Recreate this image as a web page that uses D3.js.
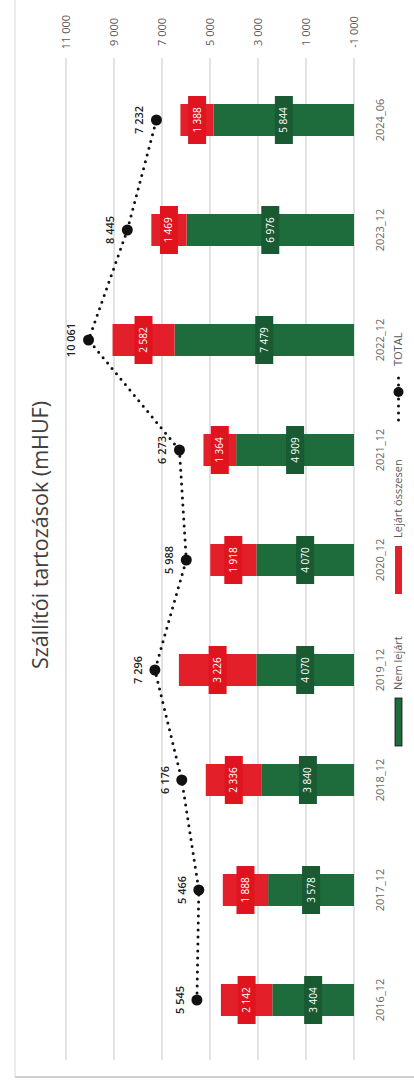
<!DOCTYPE html>
<html><head><meta charset="utf-8">
<script src="https://cdn.jsdelivr.net/npm/d3@7"></script>
<style>html,body{margin:0;padding:0;background:#fff;}svg{display:block;}</style>
</head><body>
<svg id="chart" width="414" height="1087"></svg>
<script>
const categories = ["2016_12","2017_12","2018_12","2019_12","2020_12","2021_12","2022_12","2023_12","2024_06"];
const nemLejart = [3404, 3578, 3840, 4070, 4070, 4909, 7479, 6976, 5844];
const lejart = [2142, 1888, 2336, 3226, 1918, 1364, 2582, 1469, 1388];
const total = [5545, 5466, 6176, 7296, 5988, 6273, 10061, 8445, 7232];
const axisTicks = [-1000, 1000, 3000, 5000, 7000, 9000, 11000];
const seriesNames = ["Nem lejárt", "Lejárt összesen", "TOTAL"];
const title = "Szállítói tartozások (mHUF)";

const GREEN = "#1e6b3b", GREEN_BOX = "#195a32", RED = "#e3202a", RED_BOX = "#e0141f";
const fmt = v => d3.format(",")(v).replace(/,/g, " ").replace("\u2212", "-");
const svg = d3.select("#chart");
const font = "'Open Sans', 'Liberation Sans', sans-serif";

// frame
svg.append("line").attr("x1",15).attr("x2",15).attr("y1",0).attr("y2",1077).attr("stroke","#d6d6d6");
svg.append("line").attr("x1",15).attr("x2",414).attr("y1",1077).attr("y2",1077).attr("stroke","#d0d0d0").attr("stroke-width",2);

// scales (chart is rotated: categories on y, values on x)
const y = d3.scaleBand().domain(categories.slice().reverse()).range([65, 1055]).paddingInner(0).paddingOuter(0);
const x = d3.scaleLinear().domain([-1000, 11000]).range([354, 66]);
const xb = d3.scaleLinear().domain([0, 12000]).range([354, 66]);

// gridlines
svg.append("g").selectAll("line").data(axisTicks).join("line")
  .attr("x1", d => x(d)).attr("x2", d => x(d)).attr("y1", 58).attr("y2", 1060)
  .attr("stroke", "#d9d9d9").attr("stroke-width", 1.5);

// value axis (top)
const ax = svg.append("g").attr("transform","translate(0,48)")
  .call(d3.axisTop(x).tickValues(axisTicks).tickFormat(fmt).tickSize(0));
ax.select(".domain").remove();
ax.selectAll("text").attr("transform","translate(0,-16) rotate(-90)")
  .attr("text-anchor","middle").attr("dy","0.35em").attr("x",0).attr("y",0)
  .style("font-family", font).style("font-size","11px").attr("fill","#595959");

// category axis (right)
const cy = svg.append("g").attr("transform","translate(380,0)")
  .call(d3.axisRight(y).tickSize(0));
cy.select(".domain").remove();
cy.selectAll("text").attr("transform","rotate(-90)").attr("text-anchor","middle")
  .attr("x",0).attr("y",0).attr("dy","0.35em")
  .style("font-family", font).style("font-size","11px").attr("fill","#666");

const barH = 32;
const rows = categories.map((c,i) => ({c, g: nemLejart[i], r: lejart[i], t: total[i]}));

// bars
const bars = svg.append("g");
bars.selectAll("rect.g").data(rows).join("rect").attr("class","g")
  .attr("x", d => xb(d.g)).attr("width", d => xb(0) - xb(d.g))
  .attr("y", d => y(d.c) + y.bandwidth()/2 - barH/2).attr("height", barH).attr("fill", GREEN);
bars.selectAll("rect.r").data(rows).join("rect").attr("class","r")
  .attr("x", d => xb(d.g + d.r)).attr("width", d => xb(d.g) - xb(d.g + d.r))
  .attr("y", d => y(d.c) + y.bandwidth()/2 - barH/2).attr("height", barH).attr("fill", RED);

// bar labels with boxes
function barLabel(cls, cxFn, valFn, boxColor) {
  const g = svg.append("g").selectAll("g." + cls).data(rows).join("g")
    .attr("transform", d => `translate(${cxFn(d)},${y(d.c) + y.bandwidth()/2}) rotate(-90)`);
  g.append("rect").attr("x",-24).attr("y",-9).attr("width",48).attr("height",18).attr("fill",boxColor);
  g.append("text").attr("text-anchor","middle").attr("dy","0.35em")
    .style("font-family", font).style("font-size","10px").attr("fill","#fff")
    .text(d => fmt(valFn(d)));
}
barLabel("gl", d => (xb(0) + xb(d.g))/2, d => d.g, GREEN_BOX);
barLabel("rl", d => (xb(d.g) + xb(d.g + d.r))/2, d => d.r, RED_BOX);

// total line
const line = d3.line().x(d => x(d.t)).y(d => y(d.c) + y.bandwidth()/2);
svg.append("path").datum(rows).attr("d", line).attr("fill","none").attr("stroke","#111")
  .attr("stroke-width",3).attr("stroke-dasharray","0,7").attr("stroke-linecap","round");
svg.append("g").selectAll("circle").data(rows).join("circle")
  .attr("cx", d => x(d.t)).attr("cy", d => y(d.c) + y.bandwidth()/2).attr("r",5.5).attr("fill","#111");
svg.append("g").selectAll("text").data(rows).join("text")
  .attr("transform", d => `translate(${x(d.t) - 17},${y(d.c) + y.bandwidth()/2}) rotate(-90)`)
  .attr("text-anchor","middle").attr("dy","0.35em")
  .style("font-family", font).style("font-size","11px").style("font-weight","600").attr("fill","#222")
  .text(d => fmt(d.t));

// title
svg.append("text").attr("transform","translate(40,535) rotate(-90)").attr("text-anchor","middle")
  .attr("dy","0.35em").style("font-family", font).style("font-size","21.5px").attr("fill","#404040")
  .text(title);

// legend
const lg = svg.append("g");
lg.append("rect").attr("x",395).attr("y",698).attr("width",7).attr("height",48).attr("fill",GREEN).attr("stroke","#111").attr("stroke-width",0.8);
lg.append("text").attr("transform","translate(398.5,690) rotate(-90)").attr("dy","0.35em")
  .style("font-family", font).style("font-size","11px").attr("fill","#595959").text(seriesNames[0]);
lg.append("rect").attr("x",395).attr("y",546).attr("width",7).attr("height",48).attr("fill",RED);
lg.append("text").attr("transform","translate(398.5,538) rotate(-90)").attr("dy","0.35em")
  .style("font-family", font).style("font-size","11px").attr("fill","#595959").text(seriesNames[1]);
lg.append("line").attr("x1",398.5).attr("x2",398.5).attr("y1",420).attr("y2",372)
  .attr("stroke","#111").attr("stroke-width",3).attr("stroke-dasharray","0,7").attr("stroke-linecap","round");
lg.append("circle").attr("cx",398.5).attr("cy",392).attr("r",5).attr("fill","#111");
lg.append("text").attr("transform","translate(398.5,366) rotate(-90)").attr("dy","0.35em")
  .style("font-family", font).style("font-size","11px").attr("fill","#595959").text(seriesNames[2]);
</script>
</body></html>
